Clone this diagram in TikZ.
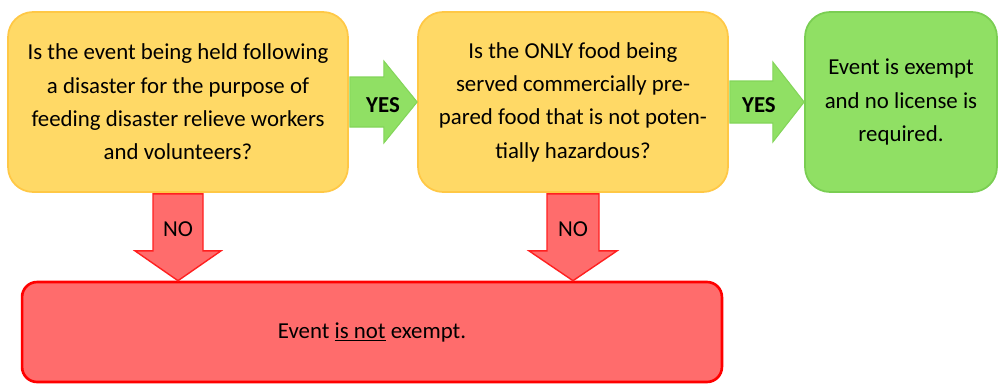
\documentclass[tikz,border=0pt]{standalone}
\usepackage{fontspec}
\setmainfont{Carlito}
\usetikzlibrary{calc}
\definecolor{askfill}{RGB}{255,217,102}
\definecolor{askline}{RGB}{255,200,70}
\definecolor{okfill}{RGB}{144,224,100}
\definecolor{okline}{RGB}{122,206,82}
\definecolor{nofill}{RGB}{255,108,108}
\definecolor{noline}{RGB}{255,0,0}

\begin{document}
\begin{tikzpicture}[x=0.02cm, y=-0.02cm,
    every node/.style={font=\fontsize{13}{19}\selectfont},
    question/.style={draw=askline, fill=askfill, line width=1pt, rounded corners=0.5cm,
      align=center, minimum height=3.6cm, inner sep=0pt},
    answer/.style={draw=okline, fill=okfill, line width=1pt, rounded corners=0.5cm,
      align=center, minimum height=3.6cm, inner sep=0pt},
    stopbox/.style={draw=noline, fill=nofill, line width=1.5pt, rounded corners=0.3cm,
      minimum width=14cm, minimum height=2cm},
    yesarrow/.style={draw=okline!60!okfill, fill=okfill, line width=0.6pt},
    noarrow/.style={draw=noline!70!nofill, fill=nofill, line width=0.8pt}]
    \useasboundingbox (0,0) rectangle (998,383);
    \node[question, minimum width=6.8cm] (q1) at (178,102)
      {Is the event being held following\\ a disaster for the purpose of\\
       feeding disaster relieve workers\\ and volunteers?};
    \node[question, minimum width=6.2cm] (q2) at (573,102)
      {Is the ONLY food being\\ served commercially pre-\\
       pared food that is not poten-\\ tially hazardous?};
    \node[answer, minimum width=3.84cm] (ok) at (901,102)
      {Event is exempt\\ and no license is\\ required.};
    \node[stopbox] (nope) at (372,332) {Event \underline{is not} exempt.};
    % yes arrows
    \draw[yesarrow] ($(q1.east)+(1,-25)$) -- ++(34,0) -- ++(0,-16) -- (q2.west)
      -- ($(q1.east)+(35,41)$) -- ++(0,-16) -- ($(q1.east)+(1,25)$) -- cycle;
    \draw[yesarrow] ($(q2.east)+(1,-21)$) -- ++(43,0) -- ++(0,-19) -- (ok.west)
      -- ($(q2.east)+(44,40)$) -- ++(0,-19) -- ($(q2.east)+(1,21)$) -- cycle;
    \node[font=\fontsize{13}{19}\selectfont\bfseries] (yes1) at ($(q1.east)!0.5!(q2.west)+(0,3)$) {YES};
    \node[font=\fontsize{13}{19}\selectfont\bfseries] (yes2) at ($(q2.east)!0.4!(ok.west)+(0,3)$) {YES};
    % no arrows
    \draw[noarrow] ($(q1.south)+(-25,1)$) -- ++(0,57) -- ++(-18,0) -- (q1.south |- nope.north)
      -- ($(q1.south)+(43,58)$) -- ++(-18,0) -- ($(q1.south)+(25,1)$) -- cycle;
    \draw[noarrow] ($(q2.south)+(-26,1)$) -- ++(0,57) -- ++(-18,0) -- (q2.south |- nope.north)
      -- ($(q2.south)+(44,58)$) -- ++(-18,0) -- ($(q2.south)+(26,1)$) -- cycle;
    \node (no1) at ($(q1.south)+(0,36)$) {NO};
    \node (no2) at ($(q2.south)+(0,36)$) {NO};
\end{tikzpicture}
\end{document}
